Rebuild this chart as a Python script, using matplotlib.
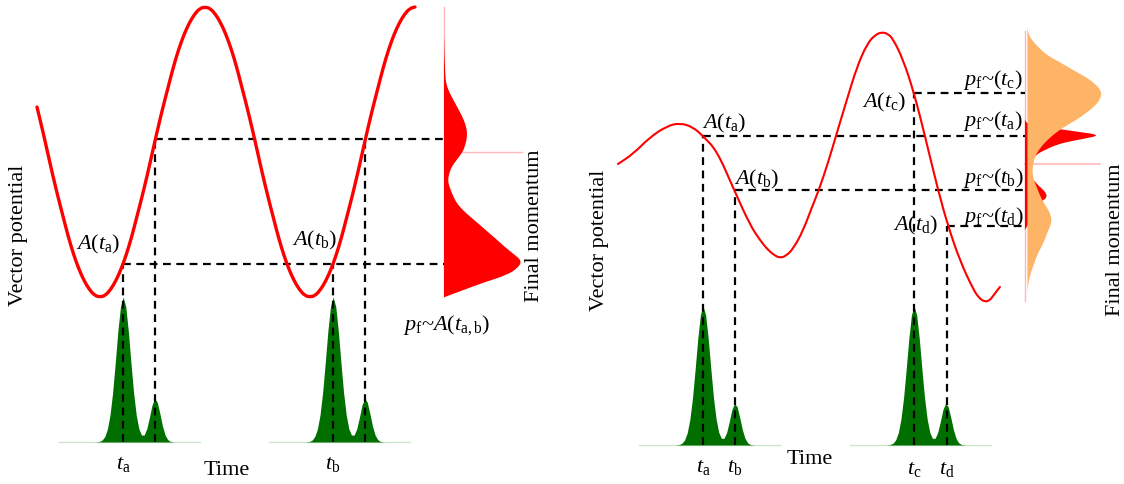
import numpy as np
import matplotlib
matplotlib.use("Agg")
import matplotlib.pyplot as plt
from matplotlib.path import Path
from matplotlib.patches import PathPatch

plt.rcParams['font.family'] = ['Liberation Serif', 'DejaVu Serif']
plt.rcParams['mathtext.fontset'] = 'custom'
plt.rcParams['mathtext.rm'] = 'Liberation Serif'
plt.rcParams['mathtext.it'] = 'Liberation Serif:italic'

# time in optical cycles, vector potential / momentum in arbitrary units

# left panel: one-colour field
left_t = np.linspace(-0.3, 1.5, 73)
left_A = [0.31, 0.16, 0.0, -0.16, -0.31, -0.45, -0.59, -0.71, -0.81, -0.89, -0.95, -0.99,
          -1.0, -0.99, -0.95, -0.89, -0.81, -0.71, -0.59, -0.45, -0.31, -0.16, 0.0,
          0.16, 0.31, 0.45, 0.59, 0.71, 0.81, 0.89, 0.95, 0.99, 1.0,
          0.99, 0.95, 0.89, 0.81, 0.71, 0.59, 0.45, 0.31, 0.16, 0.0,
          -0.16, -0.31, -0.45, -0.59, -0.71, -0.81, -0.89, -0.95, -0.99, -1.0,
          -0.99, -0.95, -0.89, -0.81, -0.71, -0.59, -0.45, -0.31, -0.16, 0.0,
          0.16, 0.31, 0.45, 0.59, 0.71, 0.81, 0.89, 0.95, 0.99, 1.0]
left_burst_t = [0.11, 1.11]
left_ion_t = [0.11, 0.262, 1.11, 1.262]
left_ion_A = [-0.77, 0.09, -0.77, 0.09]
left_ion_names = ['a', None, 'b', None]

# left momentum distribution
left_p = np.linspace(1.0, -1.0, 41)
left_prob = [0, 0, 0, 0, 0, 0.003, 0.005, 0.008, 0.012, 0.016,
             0.02, 0.04, 0.08, 0.13, 0.18, 0.23, 0.27, 0.295, 0.295, 0.275,
             0.24, 0.17, 0.10, 0.065, 0.05, 0.077, 0.115, 0.16, 0.24, 0.345,
             0.455, 0.56, 0.67, 0.77, 0.885, 1.0, 0.95, 0.8, 0.51, 0.26, 0.01]

# right panel: two-colour field
right_t = [0.095, 0.167, 0.248, 0.329, 0.390, 0.452, 0.500, 0.567, 0.648, 0.724,
           0.771, 0.805, 0.838, 0.867, 0.895, 0.929, 0.976, 1.019, 1.052, 1.095,
           1.133, 1.186, 1.233, 1.281, 1.319, 1.352, 1.381, 1.405, 1.452, 1.505,
           1.557, 1.619, 1.667, 1.724, 1.786, 1.814, 1.843, 1.867, 1.881, 1.914]
right_A = [0.000, 0.069, 0.186, 0.262, 0.283, 0.255, 0.193, 0.090, -0.179, -0.421,
           -0.524, -0.586, -0.628, -0.648, -0.634, -0.586, -0.462, -0.297, -0.179, 0.007,
           0.193, 0.448, 0.669, 0.828, 0.890, 0.910, 0.897, 0.862, 0.724, 0.490,
           0.193, -0.179, -0.428, -0.669, -0.862, -0.924, -0.952, -0.938, -0.910, -0.848]
right_burst_t = [0.5, 1.505]
right_ion_t = [0.5, 0.652, 1.505, 1.662]
right_ion_A = [0.193, -0.179, 0.490, -0.428]
right_ion_names = ['a', 'b', 'c', 'd']

# right momentum distributions
right_p = np.linspace(0.95, -0.95, 39)
right_prob_all = [0, 0.01, 0.065, 0.156, 0.26, 0.44, 0.6, 0.78, 0.91, 0.99,
                  0.975, 0.9, 0.78, 0.64, 0.47, 0.34, 0.235, 0.155, 0.1, 0.075,
                  0.065, 0.08, 0.115, 0.155, 0.195, 0.26, 0.31, 0.325, 0.285, 0.245,
                  0.21, 0.155, 0.115, 0.08, 0.045, 0.02, 0.005, 0, 0]
right_p_ab = np.linspace(0.325, -0.475, 33)
right_prob_ab = [0, 0, 0.04, 0.33, 0.66, 1.0, 0.79, 0.53, 0.38, 0.28,
                 0.18, 0.13, 0.09, 0.065, 0.05, 0.04, 0.05, 0.09, 0.14, 0.18,
                 0.235, 0.275, 0.29, 0.25, 0.145, 0.065, 0.04, 0.04, 0.04, 0.04,
                 0.04, 0, 0]

# ionisation burst shape (relative to the main burst time)
burst_dt = np.linspace(-0.15, 0.25, 33)
burst_rate = [0.000, 0.000, 0.001, 0.004, 0.013, 0.037, 0.088, 0.185, 0.339, 0.544,
              0.763, 0.935, 1.000, 0.935, 0.763, 0.544, 0.339, 0.186, 0.091, 0.048,
              0.048, 0.090, 0.168, 0.254, 0.299, 0.275, 0.197, 0.110, 0.048, 0.016,
              0.004, 0.001, 0.000]

GREEN = '#006f00'
RED = '#ff0000'
ORANGE = '#fdb466'
PINK = '#ffb8b8'
FS = 16
dash = (0, (3.5, 2.5))

fig = plt.figure(figsize=(11.24, 4.85), dpi=100)
ax_l = fig.add_axes([0, 0, 1, 1])
ax_r = fig.add_axes([0, 0, 1, 1])
for ax in (ax_l, ax_r):
    ax.set_axis_off()
    ax.patch.set_alpha(0)
ax_l.set_xlim(-100 / 210, 1024 / 210)
ax_l.set_ylim(-332 / 145, 153 / 145)
ax_r.set_xlim(-598 / 210, 526 / 210)
ax_r.set_ylim(-320 / 145, 165 / 145)


def smooth_verts(xs, ys):
    # quadratic bezier through the midpoints, so the read points act as control points
    pts = np.column_stack([xs, ys])
    verts = [pts[0], (pts[0] + pts[1]) / 2]
    codes = [Path.MOVETO, Path.LINETO]
    for i in range(1, len(pts) - 1):
        verts += [pts[i], (pts[i] + pts[i + 1]) / 2]
        codes += [Path.CURVE3, Path.CURVE3]
    verts.append(pts[-1])
    codes.append(Path.LINETO)
    return verts, codes


def smooth_line(ax, xs, ys, **kw):
    verts, codes = smooth_verts(xs, ys)
    ax.add_patch(PathPatch(Path(verts, codes), fill=False, capstyle='round', **kw))


def smooth_fill_x(ax, p, x0, widths, **kw):
    # fill between a vertical axis at x0 and a smooth outline x0 + widths
    verts, codes = smooth_verts(x0 + np.asarray(widths), p)
    verts = [(x0, p[0])] + verts + [(x0, p[-1]), (x0, p[0])]
    codes = [Path.MOVETO] + [Path.LINETO] + codes[1:] + [Path.LINETO, Path.CLOSEPOLY]
    ax.add_patch(PathPatch(Path(verts, codes), lw=0, **kw))


def draw_bursts(ax, times, base, scale):
    rate = np.array(burst_rate)
    for t0 in times:
        ax.fill_between(t0 + burst_dt, base, base + scale * rate, color=GREEN, lw=0, zorder=1)
        ax.plot([t0 - 0.305, t0 + 0.367], [base, base], color='#cde6cd', lw=1, zorder=0.5)


def draw_links(ax, times, levels, base, p_axis):
    done = []
    for t0, a in zip(times, levels):
        ax.plot([t0, t0], [base, a], color='k', lw=1.6, ls=dash, zorder=2)
        if a not in done:
            ax.plot([t0, p_axis], [a, a], color='k', lw=1.6, ls=dash, zorder=2)
            done.append(a)


# ---- left panel ----
base_l = -2.0
axis_l = 1.638
draw_bursts(ax_l, left_burst_t, base_l, 1.0)
draw_links(ax_l, left_ion_t, left_ion_A, base_l, axis_l)
smooth_line(ax_l, left_t, left_A, color=RED, lw=2.4, zorder=3)
ax_l.plot([axis_l, axis_l], [1.0, -1.0], color=PINK, lw=1, zorder=1)
ax_l.plot([axis_l, 2.01], [0, 0], color=PINK, lw=1, zorder=1)
smooth_fill_x(ax_l, left_p, axis_l, 0.371 * np.array(left_prob), color=RED, zorder=2)

for t0, name in zip(left_ion_t, left_ion_names):
    if name:
        ax_l.text(t0, base_l - 0.145, r'$t_\mathrm{%s}$' % name, fontsize=FS, ha='center', va='center')
ax_l.text(-0.01, -0.63, r'$A(t_\mathrm{a})$', fontsize=FS, ha='center', va='center')
ax_l.text(1.024, -0.60, r'$A(t_\mathrm{b})$', fontsize=FS, ha='center', va='center')
ax_l.text(0.605, -2.19, 'Time', fontsize=FS, ha='center', va='center')
ax_l.text(-0.39, -0.57, 'Vector potential', fontsize=FS, rotation=90, ha='center', va='center')
ax_l.text(2.071, -0.50, 'Final momentum', fontsize=FS, rotation=90, ha='center', va='center')
ax_l.text(1.652, -1.186, r'$p_\mathrm{f}$~$A(t_\mathrm{a,b})$', fontsize=FS, ha='center', va='center')

# ---- right panel ----
base_r = -1.938
axis_r = 2.033
draw_bursts(ax_r, right_burst_t, base_r, 0.959)
draw_links(ax_r, right_ion_t, right_ion_A, base_r, axis_r)
smooth_line(ax_r, right_t, right_A, color=RED, lw=1.5, zorder=3)
ax_r.plot([axis_r, axis_r], [0.917, -0.945], color=PINK, lw=1, zorder=1)
ax_r.plot([axis_r, 2.39], [0, 0], color=PINK, lw=1.2, zorder=1.5)
smooth_fill_x(ax_r, right_p_ab, axis_r, 0.362 * np.array(right_prob_ab), color=RED, zorder=2)
smooth_fill_x(ax_r, right_p, axis_r + 0.012, 0.357 * np.array(right_prob_all), color=ORANGE, zorder=2.2)

label_y = [-2.083, -2.083, -2.103, -2.103]
for t0, name, y in zip(right_ion_t, right_ion_names, label_y):
    ax_r.text(t0, y, r'$t_\mathrm{%s}$' % name, fontsize=FS, ha='center', va='center')
ax_r.text(0.60, 0.283, r'$A(t_\mathrm{a})$', fontsize=FS, ha='center', va='center')
ax_r.text(0.757, -0.097, r'$A(t_\mathrm{b})$', fontsize=FS, ha='center', va='center')
ax_r.text(1.362, 0.434, r'$A(t_\mathrm{c})$', fontsize=FS, ha='center', va='center')
ax_r.text(1.51, -0.414, r'$A(t_\mathrm{d})$', fontsize=FS, ha='center', va='center')
for name, y in zip(['c', 'a', 'b', 'd'], [0.586, 0.303, -0.09, -0.359]):
    ax_r.text(1.881, y, r'$p_\mathrm{f}$~$(t_\mathrm{%s})$' % name, fontsize=FS, ha='center', va='center')
ax_r.text(1.01, -2.034, 'Time', fontsize=FS, ha='center', va='center')
ax_r.text(0.0095, -0.517, 'Vector potential', fontsize=FS, rotation=90, ha='center', va='center')
ax_r.text(2.462, -0.517, 'Final momentum', fontsize=FS, rotation=90, ha='center', va='center')

fig.savefig('out.png', dpi=100)
